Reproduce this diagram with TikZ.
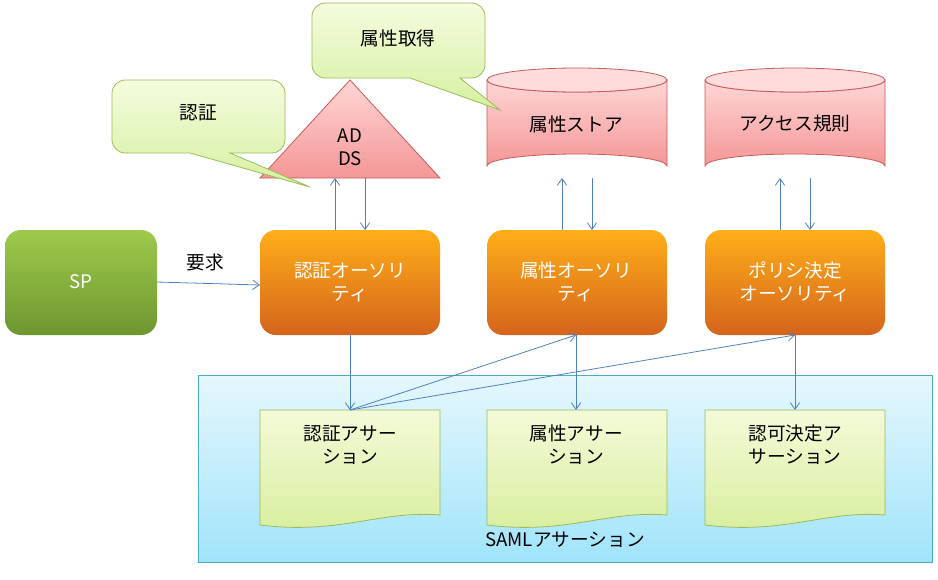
\documentclass[tikz,border=0pt]{standalone}
\usepackage{fontspec}
\setmainfont{Noto Sans CJK JP}
\usetikzlibrary{arrows.meta}
\definecolor{arr}{HTML}{4F81BD}
\tikzset{
 x=0.75pt,y=-0.75pt,
 orange/.style={rounded corners=12pt,top color=orange!70!yellow!90!white,bottom color={rgb,255:red,212;green,100;blue,28},draw=none},
 sp/.style={rounded corners=12pt,top color={rgb,255:red,158;green,202;blue,76},bottom color={rgb,255:red,110;green,150;blue,48},draw=none},
 pink/.style={top color={rgb,255:red,255;green,214;blue,214},bottom color={rgb,255:red,244;green,150;blue,150},draw={rgb,255:red,200;green,90;blue,90},line width=0.6pt},
 callout/.style={top color={rgb,255:red,244;green,252;blue,222},bottom color={rgb,255:red,214;green,240;blue,160},draw={rgb,255:red,155;green,187;blue,89},line width=0.6pt},
 doc/.style={top color={rgb,255:red,244;green,250;blue,216},bottom color={rgb,255:red,216;green,238;blue,158},draw={rgb,255:red,155;green,187;blue,89},line width=0.6pt},
 lbl/.style={font=\fontsize{14}{17}\selectfont,align=center},
 wlbl/.style={lbl,text=white},
 con/.style={draw=arr,line width=0.6pt,-{Straight Barb[length=5pt,width=7pt]}},
}
\newcommand{\docshape}[2]{\path[doc] (#1,#2) -- (#1+180,#2) -- (#1+180,#2+105) .. controls (#1+120,#2+100) and (#1+80,#2+125) .. (#1,#2+115) -- cycle;}
\begin{document}
\begin{tikzpicture}
\useasboundingbox (0,0) rectangle (938,579);
% container
\path[top color={rgb,255:red,230;green,247;blue,253},bottom color={rgb,255:red,160;green,228;blue,250},draw={rgb,255:red,75;green,172;blue,198},line width=0.6pt] (198,375) rectangle (932,562);
\node[lbl] (saml) at (565,540) {SAMLアサーション};
% docs
\docshape{260}{410}\docshape{487}{410}\docshape{705}{410}
\node[lbl] (d1) at (350,445) {認証アサー\\ション};
\node[lbl] (d2) at (576,445) {属性アサー\\ション};
\node[lbl] (d3) at (795,445) {認可決定ア\\サーション};
\coordinate (d1t) at (350,410);\coordinate (d2t) at (576,410);\coordinate (d3t) at (795,410);
% authorities
\path[sp] (5,230) rectangle (157,335); \node[wlbl] (sp) at (81,282) {SP};
\path[orange] (260,230) rectangle (440,335); \node[wlbl] (a1) at (350,282) {認証オーソリ\\ティ};
\path[orange] (487,230) rectangle (667,335); \node[wlbl] (a2) at (576,282) {属性オーソリ\\ティ};
\path[orange] (705,230) rectangle (885,335); \node[wlbl] (a3) at (795,282) {ポリシ決定\\オーソリティ};
% triangle
\path[pink] (260,178) -- (350,80) -- (440,178) -- cycle;
\node[lbl] (ad) at (350,147) {AD\\DS};
% cylinders
\foreach \x in {487,705}{
 \path[pink] (\x,80) -- (\x,166) arc[start angle=180,end angle=360,x radius=90,y radius=12] -- (\x+180,80) arc[start angle=0,end angle=180,x radius=90,y radius=12];
 \path[draw={rgb,255:red,200;green,90;blue,90},line width=0.6pt,fill={rgb,255:red,255;green,220;blue,220}] (\x+90,80) ellipse[x radius=90,y radius=12];
}
\node[lbl] (c1) at (576,124) {属性ストア};
\node[lbl] (c2) at (795,124) {アクセス規則};
% callouts
\path[callout,rounded corners=10pt] (112,80) -- (285,80) -- (285,153) [sharp corners]-- (230,153) -- (310,187) -- (190,153) [rounded corners=10pt]-- (112,153) -- cycle;
\node[lbl] (k1) at (198,113) {認証};
\path[callout,rounded corners=10pt] (312,3) -- (485,3) -- (485,78) [sharp corners]-- (460,78) -- (500,110) -- (410,78) [rounded corners=10pt]-- (312,78) -- cycle;
\node[lbl] (k2) at (398,38) {属性取得};
% arrows
\coordinate (a1u) at (335,230);\coordinate (a1v) at (335,178);
\coordinate (a1w) at (365,178);\coordinate (a1x) at (365,230);
\draw[con] (a1u) -- (a1v); \draw[con] (a1w) -- (a1x);
\draw[con] (562,230) -- (562,178); \draw[con] (592,178) -- (592,230);
\draw[con] (780,230) -- (780,178); \draw[con] (810,178) -- (810,230);
\draw[con] (sp.east -| 157,285) -- (260,285);
\node[lbl] (req) at (205,262) {要求};
\draw[con] (350,335) -- (d1t);
\draw[con] (576,335) -- (d2t);
\draw[con] (795,335) -- (d3t);
\draw[con] (d1t) -- (576,335);
\draw[con] (d1t) -- (795,335);
\end{tikzpicture}
\end{document}
